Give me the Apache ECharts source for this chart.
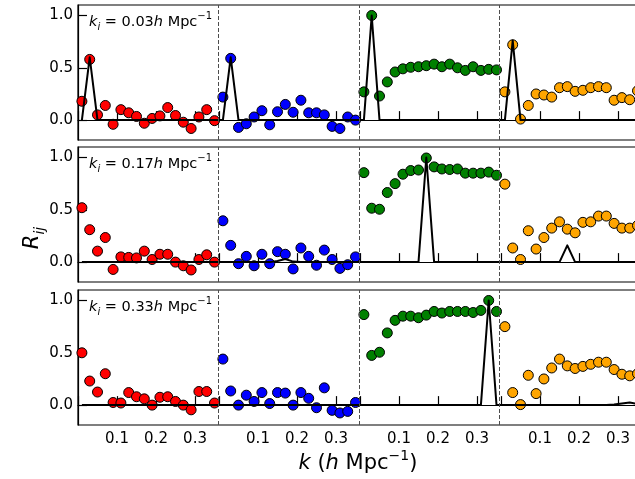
<!DOCTYPE html>
<html><head><meta charset="utf-8">
<script src="https://cdn.jsdelivr.net/npm/echarts@6/dist/echarts.min.js"></script>
<style>html,body{margin:0;padding:0;background:#fff}#c{width:635px;height:479px}</style>
</head><body><div id="c"></div>
<script>
// ---------- data ----------
const kValues = [0.01,0.03,0.05,0.07,0.09,0.11,0.13,0.15,0.17,0.19,0.21,0.23,0.25,0.27,0.29,0.31,0.33,0.35];
const kTickLabels = [0.1, 0.2, 0.3];
const kTickMarks = [0, 0.1, 0.2, 0.3];
const yTickValues = [0, 0.5, 1.0];
const kiLabels = ['0.03', '0.17', '0.33'];
const segmentNames = ['red', 'blue', 'green', 'orange'];

// row 1 : k_i = 0.03
const row1Red    = [0.18,0.58,0.05,0.14,-0.04,0.10,0.07,0.035,-0.03,0.016,0.04,0.12,0.044,-0.02,-0.08,0.03,0.10,-0.005];
const row1Blue   = [0.22,0.59,-0.07,-0.035,0.03,0.09,-0.045,0.08,0.15,0.075,0.19,0.07,0.07,0.05,-0.06,-0.08,0.03,0.0];
const row1Green  = [0.27,1.0,0.23,0.365,0.46,0.49,0.505,0.51,0.52,0.535,0.51,0.535,0.50,0.475,0.51,0.475,0.485,0.48];
const row1Orange = [0.27,0.72,0.01,0.14,0.25,0.24,0.22,0.31,0.32,0.275,0.285,0.31,0.32,0.31,0.19,0.215,0.195,0.28];
const row1Model  = [0,0.6,0,0,0,0,0,0,0,0,0,0,0,0,0,0,0,0,
                    0,0.6,0,0,0,0,0,0,0,0,0,0,0,0,0,0,0,0,
                    0,1.0,0,0,0,0,0,0,0,0,0,0,0,0,0,0,0,0,
                    0,0.76,0,0,0,0,0,0,0,0,0,0,0,0,0,0,0,0];

// row 2 : k_i = 0.17
const row2Red    = [0.52,0.31,0.105,0.235,-0.07,0.05,0.045,0.04,0.105,0.025,0.075,0.075,0.0,-0.035,-0.075,0.025,0.07,0.0];
const row2Blue   = [0.395,0.16,-0.015,0.055,-0.035,0.075,-0.015,0.10,0.075,-0.065,0.135,0.055,-0.03,0.115,0.025,-0.06,-0.025,0.05];
const row2Green  = [0.855,0.515,0.505,0.665,0.75,0.84,0.875,0.88,0.995,0.91,0.89,0.885,0.89,0.85,0.85,0.85,0.86,0.83];
const row2Orange = [0.745,0.135,0.025,0.30,0.125,0.235,0.325,0.385,0.315,0.28,0.38,0.385,0.44,0.44,0.37,0.325,0.325,0.35];
const row2Model  = [0,0,0,0,0,0,0,0,0,0,0,0,0,0,0,0,0,0,
                    0,0,0,0,0,0,0,0.01,0.03,0.005,0,0,0,0,0,0,0,0,
                    0,0,0,0,0,0,0,0,1.0,0,0,0,0,0,0,0,0,0,
                    0,0,0,0,0,0,0,0,0.16,0,0,0,0,0,0,0,0,0];

// row 3 : k_i = 0.33
const row3Red    = [0.50,0.23,0.125,0.30,0.025,0.02,0.12,0.08,0.06,0.0,0.075,0.08,0.035,0.0,-0.045,0.13,0.13,0.02];
const row3Blue   = [0.44,0.135,0.0,0.095,0.035,0.12,0.015,0.12,0.115,0.0,0.12,0.065,-0.025,0.165,-0.05,-0.075,-0.06,0.025];
const row3Green  = [0.865,0.475,0.505,0.69,0.81,0.85,0.85,0.835,0.86,0.895,0.88,0.895,0.895,0.895,0.885,0.905,1.0,0.895];
const row3Orange = [0.75,0.12,0.005,0.285,0.11,0.25,0.355,0.44,0.375,0.35,0.37,0.39,0.41,0.41,0.34,0.295,0.28,0.30];
const row3Model  = [0,0,0,0,0,0,0,0,0,0,0,0,0,0,0,0,0,0,
                    0,0,0,0,0,0,0,0,0,0,0,0,0,0,0,0,0,0,
                    0,0,0,0,0,0,0,0,0,0,0,0,0,0,0,0,1.0,0,
                    0,0,0,0,0,0,0,0,0,0,0,0,0,0,0.005,0.015,0.025,0.01];

const rows = [
  { points: [row1Red, row1Blue, row1Green, row1Orange], model: row1Model },
  { points: [row2Red, row2Blue, row2Green, row2Orange], model: row2Model },
  { points: [row3Red, row3Blue, row3Green, row3Orange], model: row3Model }
];

// ---------- style / layout ----------
const FONT = 'DejaVu Sans';
const segOffset = 0.3615;
const nSeg = 4;
const colors = ['#ff0000', '#0000ff', '#008000', '#ffa500'];
const gridTops = [5, 147, 290];
const gridHeight = 135;
const gridLeft = 78;
const gridRight = -7;
const yMin = -0.19, yMax = 1.1;

const tickVals = [], labelVals = [], labelText = [];
for (let s = 0; s < nSeg; s++) {
  kTickMarks.forEach(t => tickVals.push(s * segOffset + t));
  kTickLabels.forEach(t => { labelVals.push(s * segOffset + t); labelText.push(t.toFixed(1)); });
}
function labelFor(v) {
  let best = 0, bd = 1e9;
  labelVals.forEach((lv, i) => { const d = Math.abs(lv - v); if (d < bd) { bd = d; best = i; } });
  return labelText[best];
}

const grids = [], xAxes = [], yAxes = [], series = [];
rows.forEach((row, g) => {
  grids.push({ left: gridLeft, right: gridRight, top: gridTops[g], height: gridHeight,
    outerBoundsMode: 'none', containLabel: false,
    show: true, borderColor: '#000', borderWidth: 1.2, backgroundColor: 'transparent' });
  xAxes.push({
    gridIndex: g, type: 'value', min: 0, max: nSeg * segOffset,
    axisLine: { show: true, lineStyle: { color: '#000', width: 1.2 } },
    axisTick: { show: true, inside: true, length: 9, customValues: tickVals, lineStyle: { color: '#000', width: 1.2 } },
    axisLabel: { show: g === rows.length - 1, customValues: labelVals, formatter: v => labelFor(v),
      fontFamily: FONT, fontSize: 15, color: '#000', margin: 7 },
    splitLine: { show: false }
  });
  yAxes.push({
    gridIndex: g, type: 'value', min: yMin, max: yMax,
    axisLine: { show: true, lineStyle: { color: '#000', width: 1.2 } },
    axisTick: { show: true, inside: true, length: 9, customValues: yTickValues, lineStyle: { color: '#000', width: 1.2 } },
    axisLabel: { customValues: yTickValues, formatter: v => v.toFixed(1),
      fontFamily: FONT, fontSize: 15, color: '#000', margin: 5 },
    splitLine: { show: false }
  });
  row.points.forEach((vals, s) => {
    series.push({
      type: 'scatter', name: segmentNames[s], xAxisIndex: g, yAxisIndex: g,
      data: kValues.map((k, j) => [s * segOffset + k, vals[j]]),
      symbol: 'circle', symbolSize: 10, z: 2,
      itemStyle: { color: colors[s], borderColor: '#000', borderWidth: 1, opacity: 1 },
      emphasis: { disabled: true }
    });
  });
  const modelData = [];
  for (let s = 0; s < nSeg; s++) kValues.forEach((k, j) => modelData.push([s * segOffset + k, row.model[s * kValues.length + j]]));
  series.push({
    type: 'line', xAxisIndex: g, yAxisIndex: g, data: modelData, showSymbol: false, z: 3,
    lineStyle: { color: '#000', width: 2, join: 'round' }, animation: false,
    markLine: { silent: true, symbol: 'none', label: { show: false },
      lineStyle: { type: [4, 2], color: '#4d4d4d', width: 1 },
      data: [1, 2, 3].map(s => ({ xAxis: s * segOffset })) }
  });
});

const graphics = [];
rows.forEach((row, g) => {
  graphics.push({
    type: 'text', z: 10,
    style: {
      x: 89, y: gridTops[g] + 17, verticalAlign: 'middle', align: 'left',
      text: '{it|k}{sub|i}{n| = ' + kiLabels[g] + '}{it|h}{n| Mpc}{sup|−1}',
      fill: '#000',
      rich: {
        n: { fontFamily: FONT, fontSize: 14.5, lineHeight: 21, verticalAlign: 'middle' },
        it: { fontFamily: FONT, fontSize: 14.5, fontStyle: 'italic', lineHeight: 21, verticalAlign: 'middle' },
        sub: { fontFamily: FONT, fontSize: 10, fontStyle: 'italic', lineHeight: 10, verticalAlign: 'bottom' },
        sup: { fontFamily: FONT, fontSize: 10, lineHeight: 10, verticalAlign: 'top' }
      }
    }
  });
});
// x axis title
graphics.push({
  type: 'text', z: 10,
  style: {
    x: 358, y: 464, align: 'center', verticalAlign: 'middle', fill: '#000',
    text: '{it|k}{n| (}{it|h}{n| Mpc}{sup|−1}{n|)}',
    rich: {
      n: { fontFamily: FONT, fontSize: 21, lineHeight: 29, verticalAlign: 'middle' },
      it: { fontFamily: FONT, fontSize: 21, fontStyle: 'italic', lineHeight: 29, verticalAlign: 'middle' },
      sup: { fontFamily: FONT, fontSize: 14, lineHeight: 14, verticalAlign: 'top' }
    }
  }
});
// y axis title
graphics.push({
  type: 'text', z: 10, x: 33, y: 238, rotation: Math.PI / 2,
  style: {
    x: 0, y: 0, align: 'center', verticalAlign: 'middle', fill: '#000',
    text: '{it|R}{sub|ij}',
    rich: {
      it: { fontFamily: FONT, fontSize: 21, fontStyle: 'italic', lineHeight: 29, verticalAlign: 'middle' },
      sub: { fontFamily: FONT, fontSize: 14, fontStyle: 'italic', lineHeight: 14, verticalAlign: 'bottom' }
    }
  }
});

const chart = echarts.init(document.getElementById('c'), null, { renderer: 'canvas' });
chart.setOption({
  animation: false,
  backgroundColor: '#fff',
  grid: grids, xAxis: xAxes, yAxis: yAxes, series: series, graphic: graphics
});
</script></body></html>
